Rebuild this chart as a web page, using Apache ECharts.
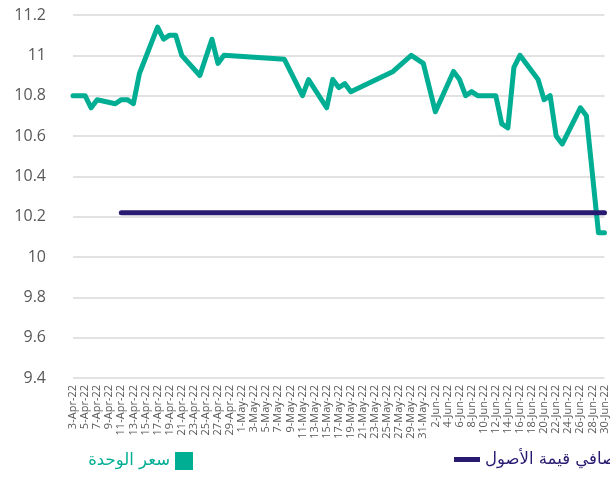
<!DOCTYPE html>
<html>
<head>
<meta charset="utf-8">
<script src="https://cdn.jsdelivr.net/npm/echarts@6/dist/echarts.min.js"></script>
<style>html,body{margin:0;padding:0;background:#fff}#c{width:610px;height:500px}</style>
</head>
<body>
<div id="c"></div>
<script>
var categories = [
'3-Apr-22','4-Apr-22','5-Apr-22','6-Apr-22','7-Apr-22','8-Apr-22','9-Apr-22','10-Apr-22','11-Apr-22','12-Apr-22',
'13-Apr-22','14-Apr-22','15-Apr-22','16-Apr-22','17-Apr-22','18-Apr-22','19-Apr-22','20-Apr-22','21-Apr-22','22-Apr-22',
'23-Apr-22','24-Apr-22','25-Apr-22','26-Apr-22','27-Apr-22','28-Apr-22','29-Apr-22','30-Apr-22','1-May-22','2-May-22',
'3-May-22','4-May-22','5-May-22','6-May-22','7-May-22','8-May-22','9-May-22','10-May-22','11-May-22','12-May-22',
'13-May-22','14-May-22','15-May-22','16-May-22','17-May-22','18-May-22','19-May-22','20-May-22','21-May-22','22-May-22',
'23-May-22','24-May-22','25-May-22','26-May-22','27-May-22','28-May-22','29-May-22','30-May-22','31-May-22','1-Jun-22',
'2-Jun-22','3-Jun-22','4-Jun-22','5-Jun-22','6-Jun-22','7-Jun-22','8-Jun-22','9-Jun-22','10-Jun-22','11-Jun-22',
'12-Jun-22','13-Jun-22','14-Jun-22','15-Jun-22','16-Jun-22','17-Jun-22','18-Jun-22','19-Jun-22','20-Jun-22','21-Jun-22',
'22-Jun-22','23-Jun-22','24-Jun-22','25-Jun-22','26-Jun-22','27-Jun-22','28-Jun-22','29-Jun-22','30-Jun-22'
];

var priceDates = [
'3-Apr-22','4-Apr-22','5-Apr-22','6-Apr-22','7-Apr-22','10-Apr-22','11-Apr-22','12-Apr-22','13-Apr-22','14-Apr-22',
'17-Apr-22','18-Apr-22','19-Apr-22','20-Apr-22','21-Apr-22','24-Apr-22','26-Apr-22','27-Apr-22','28-Apr-22',
'8-May-22','11-May-22','12-May-22','15-May-22','16-May-22','17-May-22','18-May-22','19-May-22','26-May-22','29-May-22','31-May-22',
'2-Jun-22','5-Jun-22','6-Jun-22','7-Jun-22','8-Jun-22','9-Jun-22','12-Jun-22','13-Jun-22','14-Jun-22','15-Jun-22','16-Jun-22',
'19-Jun-22','20-Jun-22','21-Jun-22','22-Jun-22','23-Jun-22','26-Jun-22','27-Jun-22','29-Jun-22','30-Jun-22'
];
var priceValues = [
10.80,10.80,10.80,10.74,10.78,10.76,10.78,10.78,10.76,10.91,
11.14,11.08,11.10,11.10,11.00,10.90,11.08,10.96,11.00,
10.98,10.80,10.88,10.74,10.88,10.84,10.86,10.82,10.92,11.00,10.96,
10.72,10.92,10.88,10.80,10.82,10.80,10.80,10.66,10.64,10.94,11.00,
10.88,10.78,10.80,10.60,10.56,10.74,10.70,10.12,10.12
];

var navDates = ['11-Apr-22','30-Jun-22'];
var navValues = [10.22, 10.22];

var yTicks = [9.4, 9.6, 9.8, 10, 10.2, 10.4, 10.6, 10.8, 11, 11.2];

var priceName = 'سعر الوحدة';
var navName = 'صافي قيمة الأصول';

function buildSeries(dates, vals) {
  return categories.map(function (c) {
    var i = dates.indexOf(c);
    return i >= 0 ? vals[i] : null;
  });
}

var teal = '#00AE94';
var navy = '#271A70';

var chart = echarts.init(document.getElementById('c'), null, {renderer: 'canvas'});
chart.setOption({
  animation: false,
  backgroundColor: '#ffffff',
  grid: {left: 73, right: 4, top: 15, bottom: 122, containLabel: false},
  legend: [
    {
      data: [priceName], right: 412, top: 447, align: 'right',
      icon: 'rect', itemWidth: 18, itemHeight: 18, itemGap: 8,
      textStyle: {color: teal, fontSize: 16.5, fontFamily: 'DejaVu Sans'}
    },
    {
      data: [navName], left: 449, top: 446, align: 'left',
      icon: 'rect', itemWidth: 26, itemHeight: 5, itemGap: 8,
      textStyle: {color: navy, fontSize: 16.5, fontFamily: 'DejaVu Sans'}
    }
  ],
  xAxis: {
    type: 'category', data: categories, boundaryGap: false,
    axisLine: {show: false}, axisTick: {show: false},
    axisLabel: {
      interval: 1, rotate: 90, margin: 7, padding: [6, 0, 0, 0],
      color: '#595959', fontSize: 11, fontFamily: 'Open Sans'
    },
    splitLine: {show: false}
  },
  yAxis: {
    type: 'value', min: yTicks[0], max: yTicks[yTicks.length - 1], interval: 0.2,
    axisLine: {show: false}, axisTick: {show: false},
    axisLabel: {
      margin: 27, color: '#595959', fontSize: 16, fontFamily: 'Open Sans',
      formatter: function (v) { return String(Math.round(v * 10) / 10); }
    },
    splitLine: {lineStyle: {color: '#D9D9D9', width: 1.5}}
  },
  series: [
    {
      name: priceName, type: 'line', data: buildSeries(priceDates, priceValues),
      connectNulls: true, symbol: 'none', color: teal,
      lineStyle: {color: teal, width: 5, cap: 'round', join: 'round'}
    },
    {
      name: navName, type: 'line', data: buildSeries(navDates, navValues),
      connectNulls: true, symbol: 'none', color: navy,
      lineStyle: {color: navy, width: 5, cap: 'round'}
    }
  ]
});
</script>
</body>
</html>
